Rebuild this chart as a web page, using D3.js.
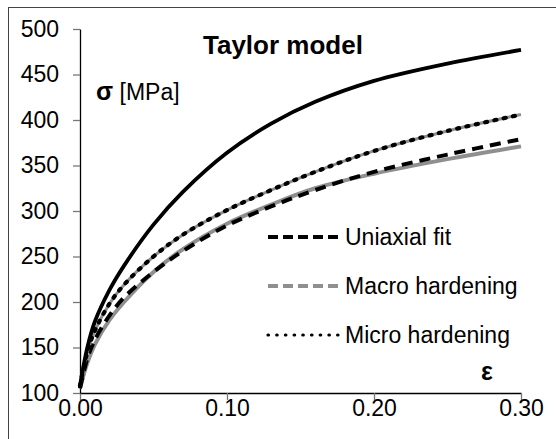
<!DOCTYPE html>
<html>
<head>
<meta charset="utf-8">
<script src="https://cdn.jsdelivr.net/npm/d3@7"></script>
<style>
  body { margin: 0; background: #fff; }
  text { font-family: "Liberation Sans", Arial, sans-serif; }
</style>
</head>
<body>
<div id="chart"></div>
<script>
// strain values (x) and stress curves (y, MPa)
let strain = [0, 0.005, 0.01, 0.02, 0.03, 0.05, 0.07, 0.10, 0.13, 0.16, 0.20, 0.25, 0.30];
let taylor = [108, 150, 178, 213, 240, 285, 321, 364, 396, 420, 443, 462, 477];
let uniaxial = [105, 138, 158, 185, 205, 233, 256, 284, 305, 323, 343, 362, 379];
let macro = [105, 133, 153, 180, 200, 233, 258, 286, 307, 325, 341, 357, 371];
let micro = [108, 145, 168, 198, 219, 250, 274, 301, 323, 343, 366, 388, 406];

let xTicks = [0, 0.1, 0.2, 0.3];
let yTicks = [100, 150, 200, 250, 300, 350, 400, 450, 500];
let legendNames = ["Uniaxial fit", "Macro hardening", "Micro hardening"];

function stress_plot() {
    let W = 556, H = 439;
    let margin = {top: 29, right: 35, bottom: 46, left: 80},
        width = W - margin.left - margin.right,
        height = H - margin.top - margin.bottom;

    let svg = d3.select("#chart")
        .append("svg")
        .attr("width", W)
        .attr("height", H);

    // outer frame (right and bottom edges fall outside the picture)
    svg.append("rect")
        .attr("x", 8.5).attr("y", 7.5)
        .attr("width", 600).attr("height", 500)
        .attr("fill", "none")
        .attr("stroke", "#444")
        .attr("stroke-width", 1);

    let g = svg.append("g")
        .attr("transform", "translate(" + margin.left + "," + margin.top + ")");

    let x = d3.scaleLinear().domain([0, 0.3]).range([0, width]);
    let y = d3.scaleLinear().domain([100, 500]).range([height, 0]);

    // X axis
    let xAxis = g.append("g")
        .attr("transform", "translate(0," + height + ")")
        .call(d3.axisBottom(x).tickValues(xTicks).tickSize(7).tickSizeOuter(0)
            .tickFormat(d3.format(".2f")));
    xAxis.selectAll("text").attr("y", 7);

    // Y axis
    let yAxis = g.append("g")
        .call(d3.axisLeft(y).tickValues(yTicks).tickSize(7).tickSizeOuter(0));
    yAxis.selectAll("text").attr("x", -21);

    [xAxis, yAxis].forEach(function (a) {
        a.select(".domain").attr("stroke", "#000").attr("stroke-width", 1.3);
        a.selectAll(".tick line").attr("stroke", "#777").attr("stroke-width", 1.3);
        a.selectAll("text")
            .style("font-family", "'Liberation Sans', Arial, sans-serif")
            .style("font-size", "23px")
            .attr("fill", "#000");
    });

    let line = d3.line()
        .x(function (d) { return x(d[0]); })
        .y(function (d) { return y(d[1]); })
        .curve(d3.curveCatmullRom.alpha(0.5));

    function pts(vals) {
        return strain.map(function (s, i) { return [s, vals[i]]; });
    }

    // Macro hardening (grey)
    g.append("path").datum(pts(macro))
        .attr("d", line).attr("fill", "none")
        .attr("stroke", "#8f8f8f").attr("stroke-width", 4);

    // Uniaxial fit (black dashed)
    g.append("path").datum(pts(uniaxial))
        .attr("d", line).attr("fill", "none")
        .attr("stroke", "#000").attr("stroke-width", 4)
        .attr("stroke-dasharray", "11 7");

    // Micro hardening: grey base with black dots on top
    g.append("path").datum(pts(micro))
        .attr("d", line).attr("fill", "none")
        .attr("stroke", "#8f8f8f").attr("stroke-width", 3);
    g.append("path").datum(pts(micro))
        .attr("d", line).attr("fill", "none")
        .attr("stroke", "#000").attr("stroke-width", 4.2)
        .attr("stroke-linecap", "round")
        .attr("stroke-dasharray", "2 7.5");

    // Taylor model (solid black)
    g.append("path").datum(pts(taylor))
        .attr("d", line).attr("fill", "none")
        .attr("stroke", "#000").attr("stroke-width", 3.8);

    // Title and axis names
    svg.append("text")
        .attr("x", 203).attr("y", 54)
        .style("font-size", "26px").style("font-weight", "bold")
        .text("Taylor model");

    let ylab = svg.append("text")
        .attr("x", 96).attr("y", 100)
        .style("font-size", "23px");
    ylab.append("tspan").style("font-weight", "bold").style("font-size", "25px").text("σ");
    ylab.append("tspan").text(" [MPa]");

    svg.append("text")
        .attr("x", 481).attr("y", 380)
        .style("font-size", "25px").style("font-weight", "bold")
        .text("ε");

    // Legend
    let legendY = [237, 286, 335];
    let legendStyles = [
        {stroke: "#000", width: 4, dash: "10 5", cap: "butt"},
        {stroke: "#8f8f8f", width: 4, dash: "10 5", cap: "butt"},
        {stroke: "#000", width: 3.2, dash: "0.5 8.2", cap: "round"}
    ];
    legendNames.forEach(function (name, i) {
        let st = legendStyles[i];
        svg.append("line")
            .attr("x1", 268).attr("x2", 338)
            .attr("y1", legendY[i]).attr("y2", legendY[i])
            .attr("stroke", st.stroke).attr("stroke-width", st.width)
            .attr("stroke-linecap", st.cap)
            .attr("stroke-dasharray", st.dash);
        svg.append("text")
            .attr("x", 345).attr("y", legendY[i] + 8)
            .style("font-size", "23px")
            .text(name);
    });
}

stress_plot();
</script>
</body>
</html>
